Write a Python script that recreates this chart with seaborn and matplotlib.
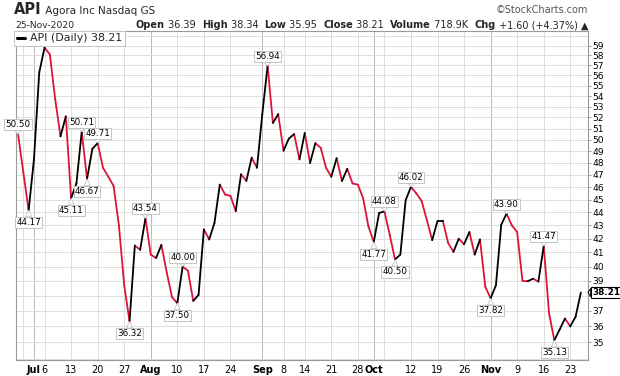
import numpy as np
import pandas as pd
import matplotlib
matplotlib.use("Agg")
import matplotlib.pyplot as plt
import matplotlib.ticker as mticker
from matplotlib.lines import Line2D
from matplotlib.offsetbox import TextArea, HPacker, AnchoredOffsetbox
import seaborn as sns

# ---------------- data ----------------
holidays = ["2020-07-03", "2020-09-07"]
dates = [d for d in pd.bdate_range("2020-06-26", "2020-11-25")
         if d.strftime("%Y-%m-%d") not in holidays]

closes = [
    50.50, 47.2, 44.17, 48.3, 56.3, 58.8, 58.1, 53.7, 50.3, 52.1,
    45.11, 46.3, 50.71, 46.67, 49.2, 49.71, 47.6, 46.85, 46.1, 43.0,
    38.7, 36.32, 41.5, 41.2, 43.54, 40.85, 40.6, 41.55, 39.6, 37.9,
    37.50, 40.00, 39.7, 37.65, 38.05, 42.7, 41.95, 43.2, 46.2, 45.4,
    45.3, 44.1, 47.05, 46.5, 48.45, 47.6, 52.3, 56.94, 51.5, 52.3,
    49.05, 50.1, 50.5, 48.3, 50.6, 48.0, 49.7, 49.3, 47.6, 46.85,
    48.4, 46.5, 47.5, 46.3, 46.2, 45.1, 42.9, 41.77, 43.95, 44.08,
    42.3, 40.50, 40.85, 44.95, 46.02, 45.5, 44.9, 43.4, 41.9, 43.35,
    43.35, 41.7, 41.05, 42.0, 41.6, 42.5, 40.85, 41.95, 38.6, 37.82,
    38.7, 43.05, 43.90, 43.0, 42.5, 39.0, 38.98, 39.15, 38.95, 41.47,
    36.85, 35.13, 35.8, 36.5, 36.0, 36.61, 38.21,
]

high_label_dates = ["2020-06-26", "2020-07-15", "2020-07-20",
                    "2020-07-31", "2020-08-11", "2020-09-02", "2020-10-05",
                    "2020-10-12", "2020-11-05", "2020-11-16"]
low_label_dates = ["2020-06-30", "2020-07-13", "2020-07-16", "2020-07-28",
                   "2020-08-10", "2020-10-01", "2020-10-07", "2020-11-02",
                   "2020-11-18"]

tick_dates = ["2020-06-29", "2020-07-01", "2020-07-06", "2020-07-13", "2020-07-20",
              "2020-07-27", "2020-08-03", "2020-08-10", "2020-08-17", "2020-08-24",
              "2020-09-01", "2020-09-08", "2020-09-14", "2020-09-21", "2020-09-28",
              "2020-10-01", "2020-10-05", "2020-10-12", "2020-10-19", "2020-10-26",
              "2020-11-02", "2020-11-09", "2020-11-16", "2020-11-23"]
tick_labels = ["", "Jul", "6", "13", "20", "27", "Aug", "10", "17", "24",
               "Sep", "8", "14", "21", "28", "Oct", "", "12", "19", "26",
               "Nov", "9", "16", "23"]
month_labels = ["Jul", "Aug", "Sep", "Oct", "Nov"]

y_ticks = list(range(35, 60))
y_hidden_label = 38          # covered by the last-value tag
y_minor = [34, 60]

header_left = "Agora Inc Nasdaq GS"
header_date = "25-Nov-2020"
quote_parts = [("Open", True), (" 36.39  ", False), ("High", True), (" 38.34  ", False),
               ("Low", True), (" 35.95  ", False), ("Close", True), (" 38.21  ", False),
               ("Volume", True), (" 718.9K  ", False), ("Chg", True),
               (" +1.60 (+4.37%) \u25B2", False)]
legend_label = "API (Daily) 38.21"
last_value = closes[-1]

# ---------------- long-form segments (up = black, down = red) ----------------
pos = {d.strftime("%Y-%m-%d"): i for i, d in enumerate(dates)}
rows = []
for i in range(1, len(closes)):
    direction = "down" if closes[i] < closes[i - 1] else "up"
    rows.append({"seg": i, "x": i - 1, "close": closes[i - 1], "dir": direction})
    rows.append({"seg": i, "x": i, "close": closes[i], "dir": direction})
seg_df = pd.DataFrame(rows)

RED = "#dc143c"
GRID = "#dedede"
MONTH_GRID = "#b9b9b9"
SPINE = "#9a9a9a"

sns.set_style("white")
plt.rcParams["font.family"] = ["DejaVu Sans"]

fig = plt.figure(figsize=(6.2, 3.76), dpi=100)
ax = fig.add_axes([16 / 620, 1 - 360 / 376, (588 - 16) / 620, (360 - 31) / 376])

sns.lineplot(data=seg_df, x="x", y="close", hue="dir", units="seg", estimator=None,
             palette={"up": "black", "down": RED}, lw=1.3, ax=ax, legend=False,
             zorder=3, solid_capstyle="round")

ax.set_yscale("log")
ax.set_ylim(33.93, 60.55)
ax.set_xlim(-0.38, 107.34)

ax.yaxis.set_major_locator(mticker.FixedLocator(y_ticks))
ax.yaxis.set_major_formatter(mticker.FixedFormatter(
    ["" if v == y_hidden_label else str(v) for v in y_ticks]))
ax.yaxis.set_minor_locator(mticker.FixedLocator(y_minor))
ax.yaxis.set_minor_formatter(mticker.NullFormatter())
ax.yaxis.tick_right()
ax.tick_params(axis="y", which="major", direction="out", length=2.5, width=0.7,
               color=SPINE, pad=0.8, labelsize=6.6, labelcolor="black")
ax.tick_params(axis="y", which="minor", length=0)

ax.set_xticks([pos[d] for d in tick_dates])
ax.set_xticklabels(tick_labels)
ax.tick_params(axis="x", direction="out", length=2, width=0.7, color=SPINE,
               pad=1.5, labelsize=7, labelcolor="black")
for t in ax.get_xticklabels():
    if t.get_text() in month_labels:
        t.set_fontweight("bold")

ax.grid(True, which="major", axis="both", color=GRID, lw=0.7, zorder=0)
ax.grid(True, which="minor", axis="y", color=GRID, lw=0.7, zorder=0)
for gl, lab in zip(ax.xaxis.get_gridlines(), tick_labels):
    if lab in month_labels:
        gl.set_color(MONTH_GRID)
ax.set_axisbelow(True)

ax.set_xlabel("")
ax.set_ylabel("")
for s in ax.spines.values():
    s.set_visible(True)
    s.set_color(SPINE)
    s.set_linewidth(0.8)

# ---------------- value callouts ----------------
def callout(d, above):
    i = pos[d]
    v = closes[i]
    ax.annotate(f"{v:.2f}", xy=(i, v), xytext=(0, 6.8 if above else -9.0),
                textcoords="offset points", ha="center", va="center",
                fontsize=6.3, color="black", zorder=6, annotation_clip=False,
                bbox=dict(boxstyle="square,pad=0.12", fc="white", ec="#c4c4c4", lw=0.7),
                arrowprops=dict(arrowstyle="wedge,tail_width=0.7,shrink_factor=0.5",
                                fc="white", ec="#c4c4c4", lw=0.6, shrinkA=0, shrinkB=0,
                                relpos=(0.5, 0.0) if above else (0.5, 1.0)))

for d in high_label_dates:
    callout(d, True)
for d in low_label_dates:
    callout(d, False)

# last value tag on the price axis
ax.annotate(f"{last_value:.2f}", xy=(1.0, last_value), xycoords=("axes fraction", "data"),
            xytext=(3.2, 0), textcoords="offset points", ha="left", va="center",
            fontsize=6.4, fontweight="bold", color="black", zorder=7,
            annotation_clip=False,
            bbox=dict(boxstyle="square,pad=0.15", fc="white", ec="black", lw=0.8),
            arrowprops=dict(arrowstyle="wedge,tail_width=0.9,shrink_factor=0.5",
                            fc="white", ec="black", lw=0.7, shrinkA=0, shrinkB=0,
                            relpos=(0.0, 0.5)))

# ---------------- legend ----------------
leg = ax.legend(handles=[Line2D([], [], color="black", lw=2.2)], labels=[legend_label],
                loc="upper left", bbox_to_anchor=(-0.003, 1.0), borderaxespad=0,
                frameon=True, fancybox=False, edgecolor="#c4c4c4", framealpha=1,
                fontsize=7.9, handlelength=0.8, handletextpad=0.4, borderpad=0.22)
leg.get_frame().set_linewidth(0.7)
leg.set_zorder(20)

# ---------------- header ----------------
row1 = HPacker(children=[TextArea("API", textprops=dict(fontsize=10.5, fontweight="bold")),
                         TextArea(" " + header_left, textprops=dict(fontsize=7.5))],
               align="baseline", pad=0, sep=0)
fig.add_artist(AnchoredOffsetbox(loc="lower left", child=row1, pad=0, borderpad=0,
                                 frameon=False, bbox_to_anchor=(14 / 620, 1 - 17 / 376),
                                 bbox_transform=fig.transFigure))
fig.text(588 / 620, 1 - 13 / 376, "\u00A9StockCharts.com", ha="right", va="baseline",
         fontsize=7, color="#555555")
fig.text(15 / 620, 1 - 28 / 376, header_date, ha="left", va="baseline", fontsize=6.6)

row2 = HPacker(children=[TextArea(t, textprops=dict(fontsize=7, fontweight="bold" if b else "normal"))
                         for t, b in quote_parts],
               align="baseline", pad=0, sep=0)
fig.add_artist(AnchoredOffsetbox(loc="lower right", child=row2, pad=0, borderpad=0,
                                 frameon=False, bbox_to_anchor=(588 / 620, 1 - 30 / 376),
                                 bbox_transform=fig.transFigure))

fig.savefig("out.png", dpi=100)
